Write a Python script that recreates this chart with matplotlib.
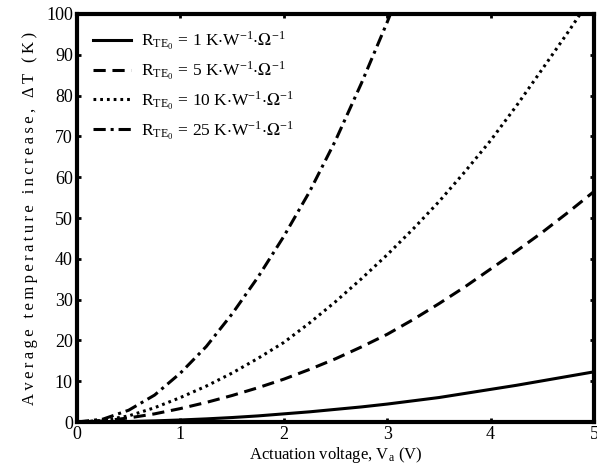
import matplotlib
matplotlib.use("Agg")
import matplotlib.pyplot as plt

# Actuation voltage (V)
voltage = [0, 0.25, 0.5, 0.75, 1, 1.25, 1.5, 1.75, 2, 2.25, 2.5, 2.75, 3,
           3.25, 3.5, 3.75, 4, 4.25, 4.5, 4.75, 5]
dT_r1 = [0, 0.03, 0.12, 0.28, 0.5, 0.77, 1.1, 1.5, 2.0, 2.5, 3.1, 3.7, 4.4,
         5.2, 6.0, 7.0, 8.0, 9.0, 10.1, 11.2, 12.3]
dT_r5 = [0, 0.25, 1.0, 2.0, 3.3, 4.8, 6.5, 8.4, 10.5, 12.9, 15.5, 18.4, 21.5,
         25.1, 29.0, 33.1, 37.5, 41.9, 46.5, 51.4, 56.5]
dT_r10 = [0, 0.4, 1.5, 3.5, 6.0, 8.8, 12.0, 15.6, 19.5, 24.3, 29.5, 35.1, 41.0,
          47.3, 54.0, 61.3, 69.0, 77.5, 86.5, 95.6, 105.0]
voltage_r25 = [0, 0.25, 0.5, 0.75, 1, 1.25, 1.5, 1.75, 2, 2.25, 2.5, 2.75, 3,
               3.25, 3.5]
dT_r25 = [0, 0.7, 2.9, 6.6, 12.0, 18.5, 26.5, 35.5, 45.5, 56.5, 69.0, 83.0,
          98.0, 114.0, 130.0]

r_values = ["1", "5", "10", "25"]
xticks = [0, 1, 2, 3, 4, 5]
yticks = [0, 10, 20, 30, 40, 50, 60, 70, 80, 90, 100]
ylabel_text = "Average temperature increase, \u0394T (K)"

def legend_label(r):
    return (r"R$_{\mathregular{TE}_{\mathregular{0}}}$ = " + r +
            r" K$\cdot$W$^{\mathregular{-1}}$$\cdot$$\Omega^{\mathregular{-1}}$")

plt.rcParams["font.family"] = ["Liberation Serif", "DejaVu Serif"]
plt.rcParams["mathtext.fontset"] = "stix"

fig = plt.figure(figsize=(5.97, 4.76), dpi=100)
ax = fig.add_axes([0.129, 0.1134, 0.866, 0.8572])

lw = 2.2
styles = ["-", (0, (4, 2.2)), (0, (0.9, 1.3)), (0, (4, 1.6, 1, 1.6))]
series = [(voltage, dT_r1), (voltage, dT_r5), (voltage, dT_r10), (voltage_r25, dT_r25)]
for (vx, vy), st, r in zip(series, styles, r_values):
    ax.plot(vx, vy, color="black", lw=lw, linestyle=st, label=legend_label(r))

ax.set_xlim(0, 5)
ax.set_ylim(0, 100)
ax.set_xticks(xticks)
ax.set_yticks(yticks)
ax.tick_params(direction="in", length=3, width=2, top=True, right=True,
               labelsize=13, pad=3)
for s in ax.spines.values():
    s.set_linewidth(3)

ax.set_xlabel(r"Actuation voltage, V$_{\mathregular{a}}$ (V)", fontsize=12, labelpad=1)
spaced = "\u2009".join(list(ylabel_text))
ax.set_ylabel(spaced, fontsize=12, labelpad=6)

leg = ax.legend(loc="upper left", frameon=False, fontsize=12.5, handlelength=2.2,
                labelspacing=0.4, borderaxespad=0.6, handletextpad=0.6,
                borderpad=0.3)

fig.savefig("out.png", dpi=100)
